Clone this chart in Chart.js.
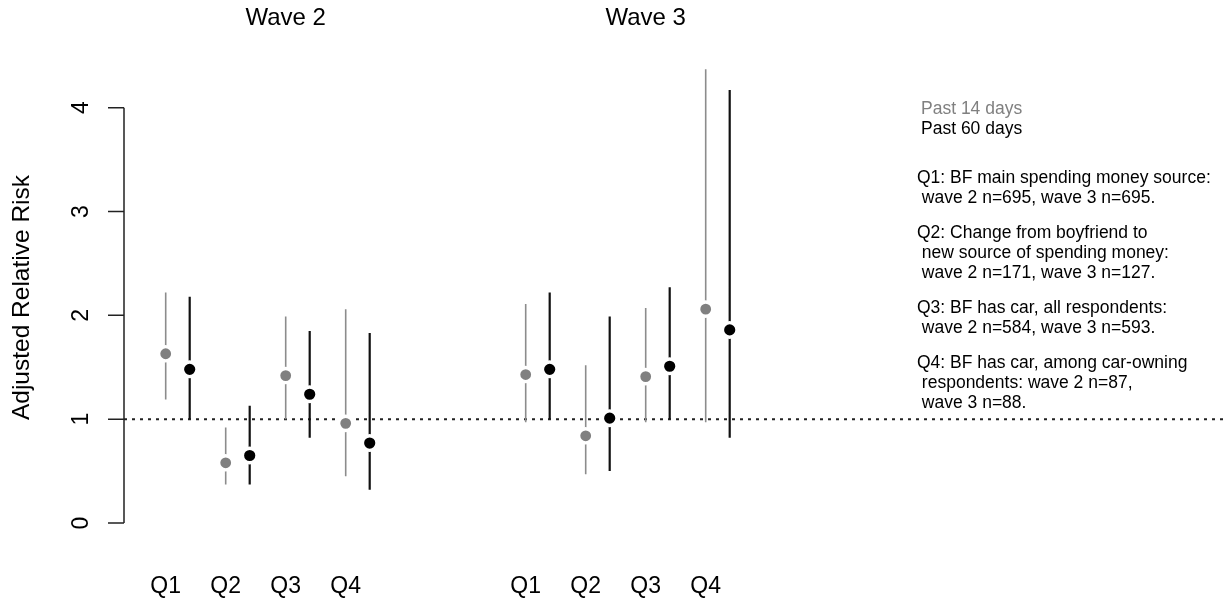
<!DOCTYPE html>
<html><head><meta charset="utf-8">
<script src="https://cdn.jsdelivr.net/npm/chart.js@4.4.1/dist/chart.umd.min.js"></script>
<style>html,body{margin:0;padding:0;background:#fff;overflow:hidden;} canvas{display:block;}</style>
</head><body>
<canvas id="c" width="1228" height="603"></canvas>
<script>
// ---- data ----
const waves = ['Wave 2', 'Wave 3'];
const questions = ['Q1', 'Q2', 'Q3', 'Q4'];
const yTicks = [0, 1, 2, 3, 4];
const refValue = 1;
const seriesLabels = ['Past 14 days', 'Past 60 days'];
// order: wave 2 Q1..Q4, wave 3 Q1..Q4
const est14 = [1.63, 0.58, 1.42, 0.96, 1.43, 0.84, 1.41, 2.06];
const lo14  = [1.19, 0.37, 1.00, 0.45, 0.97, 0.47, 0.97, 0.97];
const hi14  = [2.22, 0.92, 1.99, 2.06, 2.11, 1.52, 2.07, 4.37];
const est60 = [1.48, 0.65, 1.24, 0.77, 1.48, 1.01, 1.51, 1.86];
const lo60  = [1.00, 0.37, 0.82, 0.32, 1.00, 0.50, 1.00, 0.82];
const hi60  = [2.18, 1.13, 1.85, 1.83, 2.22, 1.99, 2.27, 4.17];
const notes = [
  ['Q1: BF main spending money source:', ' wave 2 n=695, wave 3 n=695.'],
  ['Q2: Change from boyfriend to', ' new source of spending money:', ' wave 2 n=171, wave 3 n=127.'],
  ['Q3: BF has car, all respondents:', ' wave 2 n=584, wave 3 n=593.'],
  ['Q4: BF has car, among car-owning', ' respondents: wave 2 n=87,', ' wave 3 n=88.']
];

// ---- layout helpers ----
const FONT = '"Liberation Sans", Arial, Helvetica, sans-serif';
const GREY_PT = '#808080', GREY_LN = '#8c8c8c', BLACK = '#000000';
const groupSpan = 6, seriesOffset = 0.4;
const slotPos = [];
waves.forEach((w, wi) => questions.forEach((q, qi) => slotPos.push(wi * groupSpan + qi + 1)));
const tickLabels = waves.flatMap(() => questions);

function pts(est, off) { return est.map((v, i) => ({x: slotPos[i] + off, y: v})); }
function bars(lo, hi, off) {
  const d = [];
  lo.forEach((v, i) => { d.push({x: slotPos[i] + off, y: v}); d.push({x: slotPos[i] + off, y: hi[i]}); d.push({x: slotPos[i] + off, y: null}); });
  return d;
}

const decor = {
  id: 'decor',
  beforeDatasetsDraw(chart) {
    const {ctx, chartArea, scales} = chart;
    const y = scales.y.getPixelForValue(refValue);
    ctx.save();
    ctx.strokeStyle = '#222';
    ctx.lineWidth = 2;
    ctx.setLineDash([3, 5]);
    ctx.beginPath();
    ctx.moveTo(chartArea.left, y);
    ctx.lineTo(chart.width, y);
    ctx.stroke();
    ctx.restore();
  },
  afterDraw(chart) {
    const {ctx, scales} = chart;
    const ys = scales.y, xs = scales.x;
    const axX = chart.chartArea.left;
    ctx.save();
    // y axis
    ctx.strokeStyle = '#222';
    ctx.lineWidth = 1.5;
    ctx.beginPath();
    ctx.moveTo(axX, ys.getPixelForValue(yTicks[0]));
    ctx.lineTo(axX, ys.getPixelForValue(yTicks[yTicks.length - 1]));
    yTicks.forEach(t => { const p = ys.getPixelForValue(t); ctx.moveTo(axX - 16, p); ctx.lineTo(axX, p); });
    ctx.stroke();
    ctx.fillStyle = '#000';
    ctx.font = '23px ' + FONT;
    ctx.textAlign = 'center';
    ctx.textBaseline = 'middle';
    yTicks.forEach(t => {
      const p = ys.getPixelForValue(t);
      ctx.save();
      ctx.translate(82, p);
      ctx.rotate(-Math.PI / 2);
      ctx.fillText(String(t), 0, 0);
      ctx.restore();
    });
    // wave titles
    ctx.font = '24px ' + FONT;
    waves.forEach((w, wi) => {
      ctx.fillText(w, xs.getPixelForValue(wi * groupSpan + 3), 18);
    });
    // legend + notes
    ctx.textAlign = 'left';
    ctx.font = '17.5px ' + FONT;
    ctx.fillStyle = GREY_PT;
    ctx.fillText(seriesLabels[0], 921, 109);
    ctx.fillStyle = BLACK;
    ctx.fillText(seriesLabels[1], 921, 129);
    let yy = 178;
    notes.forEach(block => {
      block.forEach(line => { ctx.fillText(line, 917, yy); yy += 20; });
      yy += 15;
    });
    ctx.restore();
  }
};

Chart.defaults.font.family = FONT;
new Chart(document.getElementById('c'), {
  type: 'scatter',
  data: {
    datasets: [
      {label: seriesLabels[0], data: pts(est14, 0), backgroundColor: GREY_PT, borderColor: '#fff', borderWidth: 3.4, pointRadius: 7.1, showLine: false, order: 1},
      {label: seriesLabels[1], data: pts(est60, seriesOffset), backgroundColor: BLACK, borderColor: '#fff', borderWidth: 3.4, pointRadius: 7.3, showLine: false, order: 1},
      {label: 'ci14', data: bars(lo14, hi14, 0), showLine: true, spanGaps: false, borderColor: GREY_LN, borderWidth: 1.6, pointRadius: 0, order: 2},
      {label: 'ci60', data: bars(lo60, hi60, seriesOffset), showLine: true, spanGaps: false, borderColor: '#111', borderWidth: 2.2, pointRadius: 0, order: 2}
    ]
  },
  options: {
    responsive: false,
    animation: false,
    events: [],
    layout: {autoPadding: false, padding: {top: 50, right: 0, left: 0, bottom: 0}},
    plugins: {legend: {display: false}, tooltip: {enabled: false}},
    scales: {
      x: {
        type: 'linear', min: 0.305, max: 18.705,
        grid: {display: false, drawTicks: false}, border: {display: false},
        afterBuildTicks: s => { s.ticks = slotPos.map(v => ({value: v})); },
        ticks: {autoSkip: false, maxRotation: 0, minRotation: 0, padding: 28, color: '#000', font: {size: 23},
          callback: (v, i) => tickLabels[i]},
        afterFit: s => { s.height = 58; }
      },
      y: {
        type: 'linear', min: -0.212, max: 4.556,
        grid: {display: false, drawTicks: false}, border: {display: false},
        ticks: {display: false},
        title: {display: true, text: 'Adjusted Relative Risk', color: '#000', font: {size: 24.5}, padding: {top: 8, bottom: 0}},
        afterFit: s => { s.width = 124; }
      }
    }
  },
  plugins: [decor]
});
</script>
</body></html>
